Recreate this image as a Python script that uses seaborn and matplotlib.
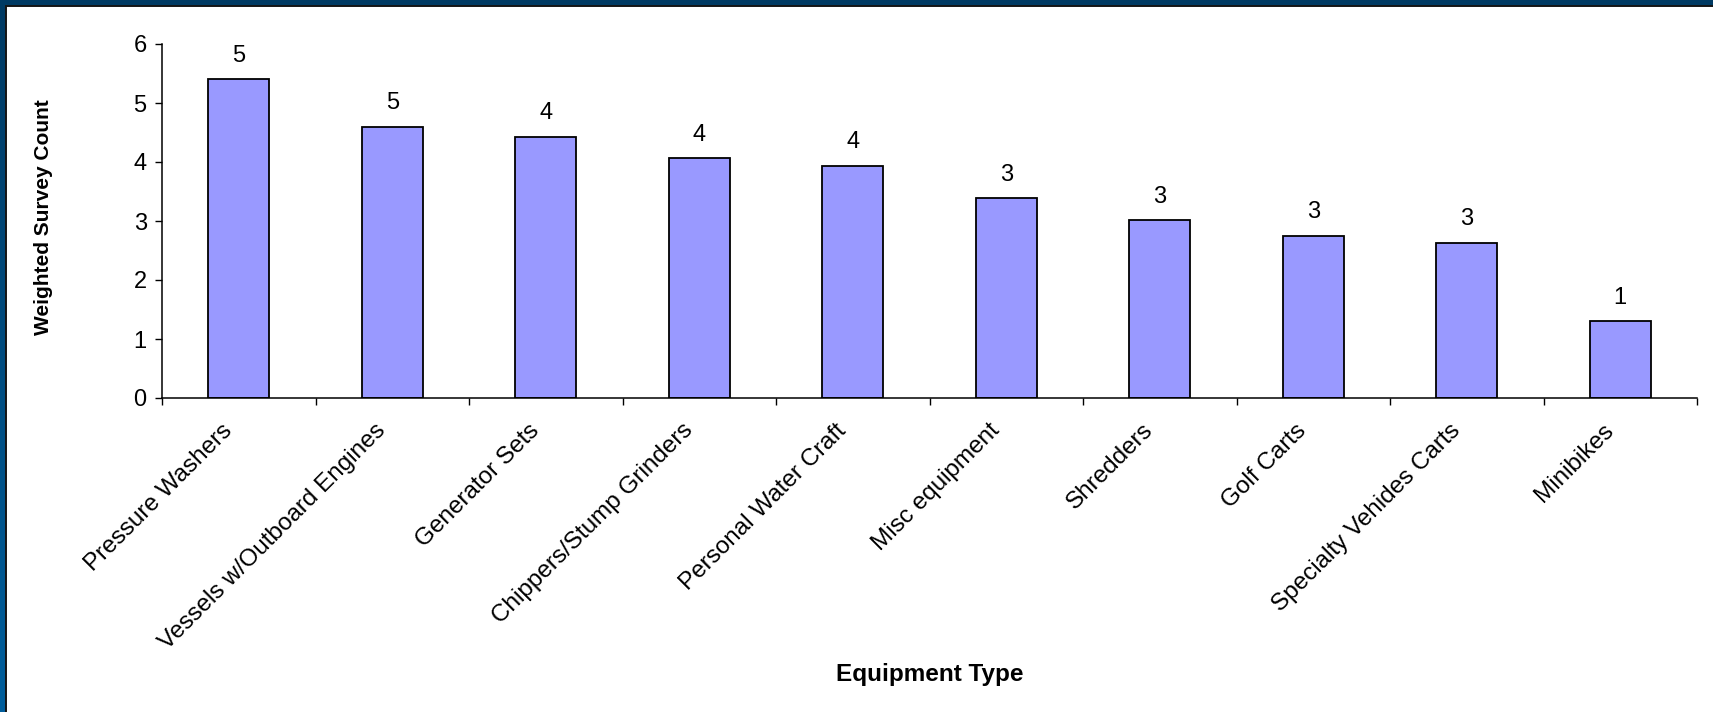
import numpy as np
import matplotlib
matplotlib.use("Agg")
import matplotlib.pyplot as plt
from matplotlib.colors import LinearSegmentedColormap
from matplotlib.patches import Rectangle
from matplotlib.transforms import ScaledTranslation
from matplotlib.ticker import FixedLocator, NullFormatter
import seaborn as sns

# Weighted survey counts by equipment type
equipment = [
    "Pressure Washers",
    "Vessels w/Outboard Engines",
    "Generator Sets",
    "Chippers/Stump Grinders",
    "Personal Water Craft",
    "Misc equipment",
    "Shredders",
    "Golf Carts",
    "Specialty Vehides Carts",
    "Minibikes",
]
survey_count = [5.40, 4.60, 4.43, 4.07, 3.94, 3.39, 3.01, 2.75, 2.63, 1.30]
y_ticks = [0, 1, 2, 3, 4, 5, 6]

sns.set_theme(style="white")
plt.rcParams["font.family"] = ["Liberation Sans", "DejaVu Sans"]

W, H, DPI = 1713, 712, 100
fig = plt.figure(figsize=(W / DPI, H / DPI), dpi=DPI)

# blue slide frame behind the white chart panel
bg = fig.add_axes([0, 0, 1, 1], zorder=-10)
frame_cmap = LinearSegmentedColormap.from_list("frame", ["#003a63", "#005e9c"])
bg.imshow(np.linspace(0, 1, 256).reshape(-1, 1), aspect="auto", cmap=frame_cmap,
          extent=[0, 1, 0, 1], origin="upper")
bg.add_patch(Rectangle((6 / W, -0.05), 1.1, 1.05 - 6 / H, facecolor="white",
                       edgecolor="#151515", linewidth=1.4))
bg.set_xlim(0, 1)
bg.set_ylim(0, 1)
bg.set_axis_off()

ax = fig.add_axes([162 / W, 1 - 398 / H, 1535 / W, 354 / H])
sns.barplot(x=equipment, y=survey_count, color="#9999FF", saturation=1,
            width=0.4, edgecolor="black", linewidth=1.3, ax=ax)

ax.set_xlim(-0.5, len(equipment) - 0.5)
ax.set_ylim(0, 6)
ax.set_facecolor("none")

for side in ("top", "right"):
    ax.spines[side].set_visible(False)
for side in ("left", "bottom"):
    ax.spines[side].set_color("black")
    ax.spines[side].set_linewidth(1.1)

# y axis
ax.set_yticks(y_ticks)
ax.set_yticklabels([str(t) for t in y_ticks])
ax.tick_params(axis="y", left=True, length=5, width=1.0, color="black",
               direction="out", labelsize=17, labelcolor="black", pad=6)

# x axis: boundary ticks (major), category labels (minor)
ax.xaxis.set_major_locator(FixedLocator(np.arange(len(equipment) + 1) - 0.5))
ax.xaxis.set_major_formatter(NullFormatter())
ax.set_xticks(np.arange(len(equipment)), minor=True)
ax.set_xticklabels(equipment, minor=True, rotation=45, ha="right", va="center",
                   rotation_mode="anchor", fontsize=17.5, color="black")
ax.tick_params(axis="x", which="major", bottom=True, length=5, width=1.0,
               color="black", direction="out")
ax.tick_params(axis="x", which="minor", bottom=True, length=0, pad=21)
shift = ScaledTranslation(-10 / DPI, 0, fig.dpi_scale_trans)
for lab in ax.get_xticklabels(minor=True):
    lab.set_transform(lab.get_transform() + shift)

# value labels above the bars
for i, v in enumerate(survey_count):
    ax.annotate(f"{v:.0f}", xy=(i, v), xytext=(0, 12.5), textcoords="offset points",
                ha="center", va="baseline", fontsize=17, color="black")

ax.set_ylabel("Weighted Survey Count", fontsize=15, fontweight="bold",
              color="black", va="center")
ax.yaxis.set_label_coords((44 - 162) / 1535, (398 - 217) / 354)
ax.set_xlabel("Equipment Type", fontsize=17.5, fontweight="bold", color="black",
              va="center")
ax.xaxis.set_label_coords(0.5, (398 - 675) / 354)

fig.savefig("out.png", dpi=DPI)
